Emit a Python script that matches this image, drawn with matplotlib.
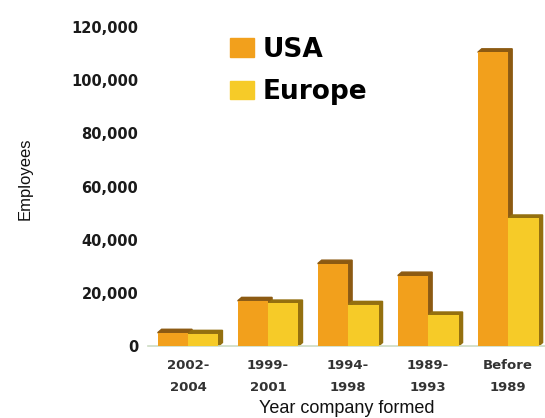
import matplotlib.pyplot as plt
import matplotlib.patches as mpatches
import numpy as np
from matplotlib.ticker import FuncFormatter

# employees by year the company was formed
periods = ['2002-\n2004', '1999-\n2001', '1994-\n1998', '1989-\n1993', 'Before\n1989']
usa = [5000, 17000, 31000, 26500, 110500]
europe = [4600, 16000, 15500, 11500, 48000]

col_usa = '#f2a01c'
col_eur = '#f6cb28'
col_usa_side = '#8c5a12'
col_eur_side = '#94700f'

fig = plt.figure(figsize=(5.45, 4.18), dpi=100, facecolor='w')
ax = fig.add_axes([0.2716, 0.1722, 0.7284, 0.7632])

xx = np.arange(len(periods))
w = 0.38
dx, dy = 0.05, 1300  # depth of the fake 3d side

for off, vals, c, cs in [(-0.19, usa, col_usa, col_usa_side),
                         (0.19, europe, col_eur, col_eur_side)]:
    bars = ax.bar(xx + off, vals, width=w, color=c, zorder=3)
    # bevelled side + top behind each bar
    for b in bars:
        x0, x1, h = b.get_x(), b.get_x() + b.get_width(), b.get_height()
        side = mpatches.Polygon([(x0, h), (x0 + dx, h + dy), (x1 + dx, h + dy),
                                 (x1 + dx, dy), (x1, 0), (x1, h)],
                                closed=True, color=cs, zorder=2)
        ax.add_patch(side)

ax.set_xlim(-0.5, 4.46)
ax.set_ylim(0, 120000)
ax.set_yticks(np.arange(0, 120001, 20000))
ax.yaxis.set_major_formatter(FuncFormatter(lambda v, p: '{:,.0f}'.format(v)))
ax.set_xticks(xx)
ax.set_xticklabels(periods, linespacing=1.9)

ax.tick_params(axis='y', length=0, pad=7, labelsize=10.5, labelcolor='#1a1a1a')
ax.tick_params(axis='x', length=0, pad=9, labelsize=9.5, labelcolor='#333333')
for t in ax.get_yticklabels() + ax.get_xticklabels():
    t.set_family('DejaVu Sans')
    t.set_fontweight('bold')

for s in ['top', 'right', 'left']:
    ax.spines[s].set_visible(False)
ax.spines['bottom'].set_color('#cddcc4')
ax.spines['bottom'].set_linewidth(1.2)

ax.set_ylabel('Employees', family='Liberation Sans', fontsize=12, color='#111111')
ax.yaxis.set_label_coords(-0.29, 0.523)
ax.set_xlabel('Year company formed', family='Liberation Sans', fontsize=13, color='#111111', labelpad=4.5)

handles = [mpatches.Patch(color=col_usa, label='USA'),
           mpatches.Patch(color=col_eur, label='Europe')]
ax.legend(handles=handles, loc='upper left', bbox_to_anchor=(0.2066, 0.97), frameon=False,
          borderpad=0, borderaxespad=0, handlelength=0.9, handleheight=0.7,
          handletextpad=0.35, labelspacing=0.64,
          prop={'family': 'DejaVu Sans', 'weight': 'bold', 'size': 19})

fig.savefig('out.png', dpi=100, facecolor='w')
